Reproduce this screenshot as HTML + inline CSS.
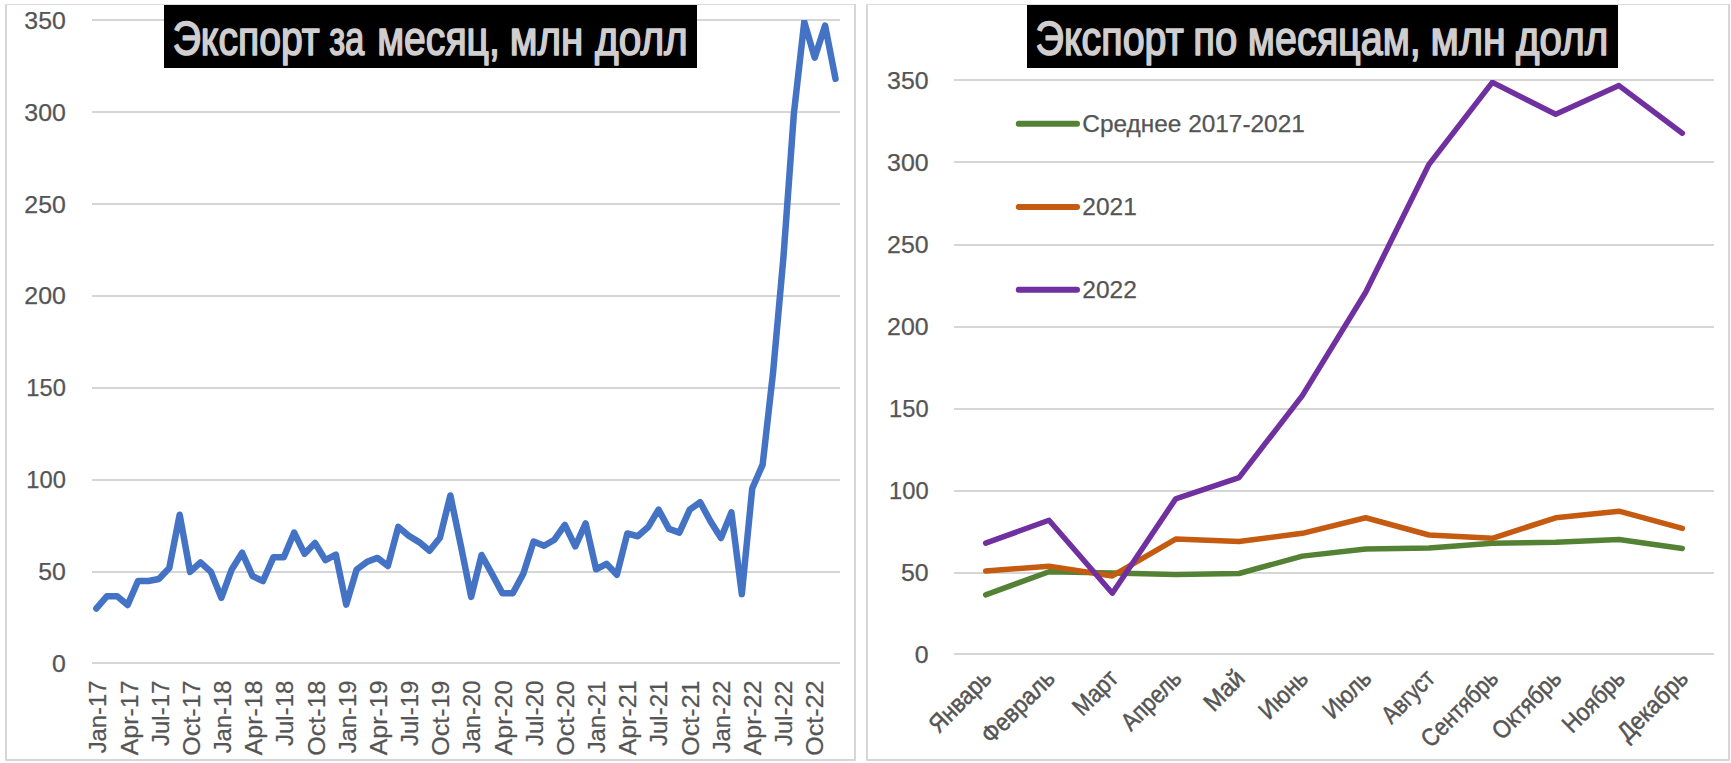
<!DOCTYPE html>
<html lang="ru"><head><meta charset="utf-8"><title>Экспорт</title>
<style>html,body{margin:0;padding:0;background:#fff}svg{display:block}text{font-family:"Liberation Sans",sans-serif;fill:#555555;stroke:#555555;stroke-width:0.25px}</style></head><body>
<svg width="1731" height="763" viewBox="0 0 1731 763">
<rect width="1731" height="763" fill="#fff"/>
<path d="M6 4.5V760H855V4.5" fill="none" stroke="#D6D6D6" stroke-width="2" stroke-linejoin="round"/>
<rect x="5" y="4" width="851" height="1" fill="#DCDCDC"/>
<rect x="92" y="662" width="748" height="2" fill="#D6D6D6"/>
<text x="65.9" y="671.80" font-size="23.7" text-anchor="end" textLength="13.84" lengthAdjust="spacingAndGlyphs">0</text>
<rect x="92" y="571" width="748" height="2" fill="#D6D6D6"/>
<text x="65.9" y="579.94" font-size="23.7" text-anchor="end" textLength="27.67" lengthAdjust="spacingAndGlyphs">50</text>
<rect x="92" y="479" width="748" height="2" fill="#D6D6D6"/>
<text x="65.9" y="488.09" font-size="23.7" text-anchor="end" textLength="39.53" lengthAdjust="spacingAndGlyphs">100</text>
<rect x="92" y="387" width="748" height="2" fill="#D6D6D6"/>
<text x="65.9" y="396.23" font-size="23.7" text-anchor="end" textLength="39.53" lengthAdjust="spacingAndGlyphs">150</text>
<rect x="92" y="295" width="748" height="2" fill="#D6D6D6"/>
<text x="65.9" y="304.37" font-size="23.7" text-anchor="end" textLength="41.51" lengthAdjust="spacingAndGlyphs">200</text>
<rect x="92" y="203" width="748" height="2" fill="#D6D6D6"/>
<text x="65.9" y="212.51" font-size="23.7" text-anchor="end" textLength="41.51" lengthAdjust="spacingAndGlyphs">250</text>
<rect x="92" y="111" width="748" height="2" fill="#D6D6D6"/>
<text x="65.9" y="120.66" font-size="23.7" text-anchor="end" textLength="41.51" lengthAdjust="spacingAndGlyphs">300</text>
<rect x="92" y="19" width="748" height="2" fill="#D6D6D6"/>
<text x="65.9" y="28.80" font-size="23.7" text-anchor="end" textLength="41.51" lengthAdjust="spacingAndGlyphs">350</text>
<text transform="translate(97.19 680.5) rotate(-90)" y="9.2" font-size="23.7" text-anchor="end" textLength="72.88" lengthAdjust="spacingAndGlyphs">Jan-17</text>
<text transform="translate(128.36 680.5) rotate(-90)" y="9.2" font-size="23.7" text-anchor="end" textLength="74.82" lengthAdjust="spacingAndGlyphs">Apr-17</text>
<text transform="translate(159.53 680.5) rotate(-90)" y="9.2" font-size="23.7" text-anchor="end" textLength="65.57" lengthAdjust="spacingAndGlyphs">Jul-17</text>
<text transform="translate(190.69 680.5) rotate(-90)" y="9.2" font-size="23.7" text-anchor="end" textLength="75.17" lengthAdjust="spacingAndGlyphs">Oct-17</text>
<text transform="translate(221.86 680.5) rotate(-90)" y="9.2" font-size="23.7" text-anchor="end" textLength="72.88" lengthAdjust="spacingAndGlyphs">Jan-18</text>
<text transform="translate(253.03 680.5) rotate(-90)" y="9.2" font-size="23.7" text-anchor="end" textLength="74.82" lengthAdjust="spacingAndGlyphs">Apr-18</text>
<text transform="translate(284.19 680.5) rotate(-90)" y="9.2" font-size="23.7" text-anchor="end" textLength="65.57" lengthAdjust="spacingAndGlyphs">Jul-18</text>
<text transform="translate(315.36 680.5) rotate(-90)" y="9.2" font-size="23.7" text-anchor="end" textLength="75.17" lengthAdjust="spacingAndGlyphs">Oct-18</text>
<text transform="translate(346.53 680.5) rotate(-90)" y="9.2" font-size="23.7" text-anchor="end" textLength="72.88" lengthAdjust="spacingAndGlyphs">Jan-19</text>
<text transform="translate(377.69 680.5) rotate(-90)" y="9.2" font-size="23.7" text-anchor="end" textLength="74.82" lengthAdjust="spacingAndGlyphs">Apr-19</text>
<text transform="translate(408.86 680.5) rotate(-90)" y="9.2" font-size="23.7" text-anchor="end" textLength="65.57" lengthAdjust="spacingAndGlyphs">Jul-19</text>
<text transform="translate(440.03 680.5) rotate(-90)" y="9.2" font-size="23.7" text-anchor="end" textLength="75.17" lengthAdjust="spacingAndGlyphs">Oct-19</text>
<text transform="translate(471.19 680.5) rotate(-90)" y="9.2" font-size="23.7" text-anchor="end" textLength="72.88" lengthAdjust="spacingAndGlyphs">Jan-20</text>
<text transform="translate(502.36 680.5) rotate(-90)" y="9.2" font-size="23.7" text-anchor="end" textLength="74.82" lengthAdjust="spacingAndGlyphs">Apr-20</text>
<text transform="translate(533.53 680.5) rotate(-90)" y="9.2" font-size="23.7" text-anchor="end" textLength="65.57" lengthAdjust="spacingAndGlyphs">Jul-20</text>
<text transform="translate(564.69 680.5) rotate(-90)" y="9.2" font-size="23.7" text-anchor="end" textLength="75.17" lengthAdjust="spacingAndGlyphs">Oct-20</text>
<text transform="translate(595.86 680.5) rotate(-90)" y="9.2" font-size="23.7" text-anchor="end" textLength="72.88" lengthAdjust="spacingAndGlyphs">Jan-21</text>
<text transform="translate(627.03 680.5) rotate(-90)" y="9.2" font-size="23.7" text-anchor="end" textLength="74.82" lengthAdjust="spacingAndGlyphs">Apr-21</text>
<text transform="translate(658.19 680.5) rotate(-90)" y="9.2" font-size="23.7" text-anchor="end" textLength="65.57" lengthAdjust="spacingAndGlyphs">Jul-21</text>
<text transform="translate(689.36 680.5) rotate(-90)" y="9.2" font-size="23.7" text-anchor="end" textLength="75.17" lengthAdjust="spacingAndGlyphs">Oct-21</text>
<text transform="translate(720.53 680.5) rotate(-90)" y="9.2" font-size="23.7" text-anchor="end" textLength="72.88" lengthAdjust="spacingAndGlyphs">Jan-22</text>
<text transform="translate(751.69 680.5) rotate(-90)" y="9.2" font-size="23.7" text-anchor="end" textLength="74.82" lengthAdjust="spacingAndGlyphs">Apr-22</text>
<text transform="translate(782.86 680.5) rotate(-90)" y="9.2" font-size="23.7" text-anchor="end" textLength="65.57" lengthAdjust="spacingAndGlyphs">Jul-22</text>
<text transform="translate(814.03 680.5) rotate(-90)" y="9.2" font-size="23.7" text-anchor="end" textLength="75.17" lengthAdjust="spacingAndGlyphs">Oct-22</text>
<clipPath id="c1"><rect x="92" y="20" width="748" height="644"/></clipPath>
<polyline clip-path="url(#c1)" points="96.40,608.44 106.81,596.31 117.22,596.31 127.63,604.95 138.04,581.06 148.45,581.06 158.86,579.04 169.27,568.02 179.68,514.74 190.09,571.88 200.50,562.32 210.91,571.88 221.32,597.78 231.73,569.49 242.14,552.77 252.55,576.10 262.96,581.06 273.37,557.36 283.78,557.36 294.19,532.56 304.60,553.87 315.01,543.03 325.42,560.12 335.83,554.61 346.24,604.58 356.65,569.49 367.06,561.77 377.47,557.92 387.88,566.00 398.29,526.87 408.70,535.69 419.11,542.12 429.52,550.75 439.93,537.71 450.34,495.45 460.75,545.06 471.16,596.86 481.57,554.98 491.98,573.90 502.39,593.19 512.80,593.19 523.21,573.90 533.62,541.56 544.03,545.79 554.44,539.73 564.85,524.85 575.26,546.34 585.67,523.38 596.08,569.31 606.49,563.79 616.90,574.82 627.31,533.48 637.72,536.24 648.13,527.05 658.54,509.60 668.95,528.89 679.36,532.56 689.77,509.60 700.18,502.25 710.59,521.54 721.00,538.07 731.41,512.35 741.82,594.11 752.23,488.47 762.64,464.59 773.05,372.73 783.46,256.99 793.87,113.69 804.28,21.84 814.69,57.66 825.10,25.51 835.51,78.79" fill="none" stroke="#4472C4" stroke-width="6.5" stroke-linejoin="round" stroke-linecap="round"/>
<rect x="164" y="5" width="533" height="63" fill="#000"/>
<text y="55.2" font-size="47.2" style="fill:#D0CECE;stroke:#D0CECE;stroke-width:1.6;stroke-linejoin:round"><tspan x="172.77" textLength="146.94" lengthAdjust="spacingAndGlyphs">Экспорт</tspan> <tspan x="329.18" textLength="35.25" lengthAdjust="spacingAndGlyphs">за</tspan> <tspan x="377.19" textLength="122.66" lengthAdjust="spacingAndGlyphs">месяц,</tspan> <tspan x="509.69" textLength="73.62" lengthAdjust="spacingAndGlyphs">млн</tspan> <tspan x="595.00" textLength="92.77" lengthAdjust="spacingAndGlyphs">долл</tspan></text>
<path d="M867 4.5V760H1729V4.5" fill="none" stroke="#D6D6D6" stroke-width="2" stroke-linejoin="round"/>
<rect x="866" y="4" width="864" height="1" fill="#DCDCDC"/>
<rect x="954" y="653" width="760" height="2" fill="#D6D6D6"/>
<text x="928.6" y="662.80" font-size="23.7" text-anchor="end" textLength="13.84" lengthAdjust="spacingAndGlyphs">0</text>
<rect x="954" y="572" width="760" height="2" fill="#D6D6D6"/>
<text x="928.6" y="580.80" font-size="23.7" text-anchor="end" textLength="27.67" lengthAdjust="spacingAndGlyphs">50</text>
<rect x="954" y="490" width="760" height="2" fill="#D6D6D6"/>
<text x="928.6" y="498.80" font-size="23.7" text-anchor="end" textLength="39.53" lengthAdjust="spacingAndGlyphs">100</text>
<rect x="954" y="408" width="760" height="2" fill="#D6D6D6"/>
<text x="928.6" y="416.80" font-size="23.7" text-anchor="end" textLength="39.53" lengthAdjust="spacingAndGlyphs">150</text>
<rect x="954" y="326" width="760" height="2" fill="#D6D6D6"/>
<text x="928.6" y="334.80" font-size="23.7" text-anchor="end" textLength="41.51" lengthAdjust="spacingAndGlyphs">200</text>
<rect x="954" y="244" width="760" height="2" fill="#D6D6D6"/>
<text x="928.6" y="252.80" font-size="23.7" text-anchor="end" textLength="41.51" lengthAdjust="spacingAndGlyphs">250</text>
<rect x="954" y="161" width="760" height="2" fill="#D6D6D6"/>
<text x="928.6" y="170.80" font-size="23.7" text-anchor="end" textLength="41.51" lengthAdjust="spacingAndGlyphs">300</text>
<rect x="954" y="79" width="760" height="2" fill="#D6D6D6"/>
<text x="928.6" y="88.80" font-size="23.7" text-anchor="end" textLength="41.51" lengthAdjust="spacingAndGlyphs">350</text>
<text transform="translate(993.07 680) rotate(-45)" font-size="25" text-anchor="end" textLength="76.8" lengthAdjust="spacingAndGlyphs" style="stroke:#555555;stroke-width:0.5">Январь</text>
<text transform="translate(1056.40 680) rotate(-45)" font-size="25" text-anchor="end" textLength="92.1" lengthAdjust="spacingAndGlyphs" style="stroke:#555555;stroke-width:0.5">Февраль</text>
<text transform="translate(1119.73 680) rotate(-45)" font-size="25" text-anchor="end" textLength="52.5" lengthAdjust="spacingAndGlyphs" style="stroke:#555555;stroke-width:0.5">Март</text>
<text transform="translate(1183.07 680) rotate(-45)" font-size="25" text-anchor="end" textLength="73.5" lengthAdjust="spacingAndGlyphs" style="stroke:#555555;stroke-width:0.5">Апрель</text>
<text transform="translate(1246.40 680) rotate(-45)" font-size="25" text-anchor="end" textLength="46.2" lengthAdjust="spacingAndGlyphs" style="stroke:#555555;stroke-width:0.5">Май</text>
<text transform="translate(1309.73 680) rotate(-45)" font-size="25" text-anchor="end" textLength="57.8" lengthAdjust="spacingAndGlyphs" style="stroke:#555555;stroke-width:0.5">Июнь</text>
<text transform="translate(1373.07 680) rotate(-45)" font-size="25" text-anchor="end" textLength="57.0" lengthAdjust="spacingAndGlyphs" style="stroke:#555555;stroke-width:0.5">Июль</text>
<text transform="translate(1436.40 680) rotate(-45)" font-size="25" text-anchor="end" textLength="63.6" lengthAdjust="spacingAndGlyphs" style="stroke:#555555;stroke-width:0.5">Август</text>
<text transform="translate(1499.73 680) rotate(-45)" font-size="25" text-anchor="end" textLength="97.1" lengthAdjust="spacingAndGlyphs" style="stroke:#555555;stroke-width:0.5">Сентябрь</text>
<text transform="translate(1563.07 680) rotate(-45)" font-size="25" text-anchor="end" textLength="86.3" lengthAdjust="spacingAndGlyphs" style="stroke:#555555;stroke-width:0.5">Октябрь</text>
<text transform="translate(1626.40 680) rotate(-45)" font-size="25" text-anchor="end" textLength="76.6" lengthAdjust="spacingAndGlyphs" style="stroke:#555555;stroke-width:0.5">Ноябрь</text>
<text transform="translate(1689.73 680) rotate(-45)" font-size="25" text-anchor="end" textLength="88.5" lengthAdjust="spacingAndGlyphs" style="stroke:#555555;stroke-width:0.5">Декабрь</text>
<clipPath id="c2"><rect x="954" y="80" width="760" height="576"/></clipPath>
<polyline clip-path="url(#c2)" points="985.67,594.84 1049.00,571.72 1112.33,573.03 1175.67,574.50 1239.00,573.52 1302.33,556.14 1365.67,549.08 1429.00,548.10 1492.33,543.34 1555.67,542.36 1619.00,539.57 1682.33,548.43" fill="none" stroke="#548235" stroke-width="5.5" stroke-linejoin="round" stroke-linecap="round"/>
<polyline clip-path="url(#c2)" points="985.67,571.06 1049.00,566.14 1112.33,575.98 1175.67,539.08 1239.00,541.54 1302.33,533.34 1365.67,517.76 1429.00,534.98 1492.33,538.26 1555.67,517.76 1619.00,511.20 1682.33,528.42" fill="none" stroke="#C55A11" stroke-width="5.5" stroke-linejoin="round" stroke-linecap="round"/>
<polyline clip-path="url(#c2)" points="985.67,543.18 1049.00,520.22 1112.33,593.20 1175.67,498.90 1239.00,477.58 1302.33,395.58 1365.67,292.26 1429.00,164.34 1492.33,82.34 1555.67,114.32 1619.00,85.62 1682.33,133.18" fill="none" stroke="#7030A0" stroke-width="5.5" stroke-linejoin="round" stroke-linecap="round"/>
<line x1="1018.7" x2="1077" y1="123.8" y2="123.8" stroke="#548235" stroke-width="6" stroke-linecap="round"/>
<text x="1082.3" y="132.2" font-size="23.7" textLength="222.5" lengthAdjust="spacingAndGlyphs">Среднее 2017-2021</text>
<line x1="1018.7" x2="1077" y1="206.9" y2="206.9" stroke="#C55A11" stroke-width="6" stroke-linecap="round"/>
<text x="1082.3" y="215.3" font-size="23.7" textLength="54.5" lengthAdjust="spacingAndGlyphs">2021</text>
<line x1="1018.7" x2="1077" y1="289.8" y2="289.8" stroke="#7030A0" stroke-width="6" stroke-linecap="round"/>
<text x="1082.3" y="298.2" font-size="23.7" textLength="54.5" lengthAdjust="spacingAndGlyphs">2022</text>
<rect x="1027" y="5" width="591" height="63" fill="#000"/>
<text y="55.4" font-size="47.2" style="fill:#D0CECE;stroke:#D0CECE;stroke-width:1.6;stroke-linejoin:round"><tspan x="1035.57" textLength="148.13" lengthAdjust="spacingAndGlyphs">Экспорт</tspan> <tspan x="1193.26" textLength="44.05" lengthAdjust="spacingAndGlyphs">по</tspan> <tspan x="1247.85" textLength="172.95" lengthAdjust="spacingAndGlyphs">месяцам,</tspan> <tspan x="1430.60" textLength="75.14" lengthAdjust="spacingAndGlyphs">млн</tspan> <tspan x="1516.09" textLength="92.16" lengthAdjust="spacingAndGlyphs">долл</tspan></text>
</svg></body></html>
